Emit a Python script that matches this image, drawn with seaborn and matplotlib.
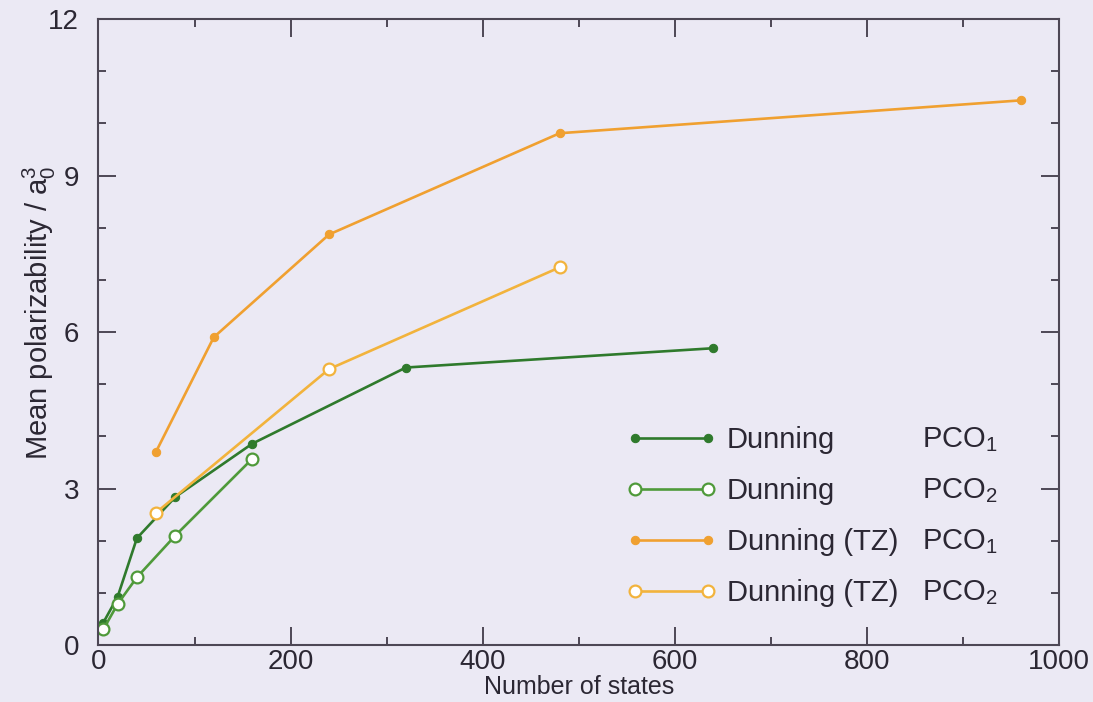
import matplotlib
matplotlib.use("Agg")
import matplotlib.pyplot as plt
import seaborn as sns
import numpy as np
from matplotlib.ticker import MultipleLocator

# Data
dun_x = [5, 20, 40, 80, 160, 320, 640]
dun_pco1 = [0.43, 0.93, 2.05, 2.84, 3.86, 5.32, 5.69]
dun2_x = [5, 20, 40, 80, 160]
dun_pco2 = [0.30, 0.79, 1.30, 2.10, 3.57]
tz_x = [60, 120, 240, 480, 960]
tz_pco1 = [3.71, 5.90, 7.87, 9.81, 10.44]
tz2_x = [60, 240, 480]
tz_pco2 = [2.54, 5.29, 7.24]

labels = ["Dunning", "Dunning", "Dunning (TZ)", "Dunning (TZ)"]
sublabels = ["PCO$_1$", "PCO$_2$", "PCO$_1$", "PCO$_2$"]

BG = "#ebe9f4"
TXT = "#2b2733"
AX = "#4d4755"
C_G1 = "#2f7a2c"
C_G2 = "#4f9a3a"
C_O1 = "#f0a030"
C_O2 = "#f2b33c"

sns.set_theme(style="ticks")
plt.rcParams["font.family"] = ["Liberation Sans", "DejaVu Sans"]
plt.rcParams["mathtext.fontset"] = "custom"
plt.rcParams["mathtext.rm"] = "Liberation Sans"
plt.rcParams["mathtext.it"] = "Liberation Sans"

fig = plt.figure(figsize=(10.93, 7.02), dpi=100, facecolor=BG)
ax = fig.add_axes([0.0901, 0.081, 0.879, 0.892])
ax.set_facecolor(BG)

lw = 1.9
sns.lineplot(x=dun_x, y=dun_pco1, ax=ax, color=C_G1, lw=lw, marker="o", ms=6,
             mfc=C_G1, mec=C_G1, label=labels[0], sort=False)
sns.lineplot(x=dun2_x, y=dun_pco2, ax=ax, color=C_G2, lw=lw, marker="o", ms=8.5,
             mfc="white", mec=C_G2, mew=1.6, label=labels[1], sort=False)
sns.lineplot(x=tz_x, y=tz_pco1, ax=ax, color=C_O1, lw=lw, marker="o", ms=6,
             mfc=C_O1, mec=C_O1, label=labels[2], sort=False)
sns.lineplot(x=tz2_x, y=tz_pco2, ax=ax, color=C_O2, lw=lw, marker="o", ms=8.5,
             mfc="white", mec=C_O2, mew=1.6, label=labels[3], sort=False)

ax.set_xlim(0, 1000)
ax.set_ylim(0, 12)
ax.xaxis.set_major_locator(MultipleLocator(200))
ax.xaxis.set_minor_locator(MultipleLocator(100))
ax.yaxis.set_major_locator(MultipleLocator(3))
ax.yaxis.set_minor_locator(MultipleLocator(1))
ax.tick_params(which="both", direction="in", top=True, right=True, color=AX,
               labelcolor=TXT, labelsize=20, width=1.4)
ax.tick_params(which="major", length=13)
ax.tick_params(which="minor", length=6)
ax.tick_params(axis="y", which="major", pad=14)
ax.tick_params(axis="x", which="major", pad=3)
for s in ax.spines.values():
    s.set_visible(True)
    s.set_color(AX)
    s.set_linewidth(1.5)

ax.set_xlabel("Number of states", fontsize=18, color=TXT)
ax.xaxis.label.set_va("baseline")
ax.xaxis.set_label_coords(0.5, -0.0785)
ax.set_ylabel("Mean polarizability / a$_0^3$", fontsize=21, color=TXT)
ax.yaxis.set_label_coords(-0.042, 0.53)

leg = ax.legend(loc="upper left", bbox_to_anchor=(0.549, 0.350), frameon=False,
                fontsize=21, handlelength=3.1, handletextpad=0.35,
                labelspacing=0.79, numpoints=2, borderpad=0, borderaxespad=0)
for t in leg.get_texts():
    t.set_color(TXT)

fig.canvas.draw()
for t, sub in zip(leg.get_texts(), sublabels):
    bb = t.get_window_extent()
    y = (bb.y0 + bb.y1) / 2
    xd, yd = ax.transAxes.inverted().transform((0, y))
    ax.text(0.857, yd, sub, transform=ax.transAxes, fontsize=21, color=TXT,
            va="center", ha="left")

fig.savefig("out.png", dpi=100, facecolor=BG)
